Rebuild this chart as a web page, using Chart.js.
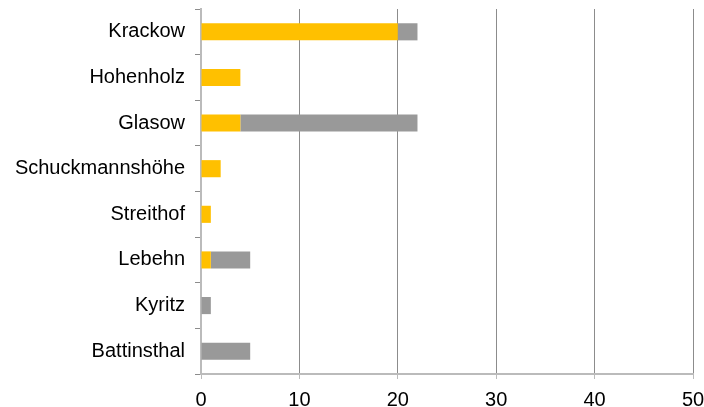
<!DOCTYPE html>
<html>
<head>
<meta charset="utf-8">
<script src="https://cdn.jsdelivr.net/npm/chart.js@4"></script>
<style>
  body { margin: 0; background: #fff; }
  #wrap { width: 704px; height: 407px; }
</style>
</head>
<body>
<div id="wrap"><canvas id="chart"></canvas></div>
<script>
const places = ['Krackow', 'Hohenholz', 'Glasow', 'Schuckmannshöhe', 'Streithof', 'Lebehn', 'Kyritz', 'Battinsthal'];
const yellowValues = [20, 4, 4, 2, 1, 1, 0, 0];
const grayValues = [2, 0, 18, 0, 0, 4, 1, 5];
const xTicks = [0, 10, 20, 30, 40, 50];

const ctx = document.getElementById('chart').getContext('2d');
new Chart(ctx, {
    type: 'bar',
    data: {
        labels: places,
        datasets: [{
            data: yellowValues,
            backgroundColor: '#FFC000',
            barPercentage: 0.375,
            categoryPercentage: 1
        }, {
            data: grayValues,
            backgroundColor: '#999999',
            barPercentage: 0.375,
            categoryPercentage: 1
        }]
    },
    options: {
        indexAxis: 'y',
        responsive: true,
        maintainAspectRatio: false,
        animation: false,
        layout: { padding: { top: 9, right: 0, left: 0, bottom: 0 } },
        plugins: {
            legend: { display: false },
            tooltip: { enabled: false }
        },
        scales: {
            x: {
                stacked: true,
                min: 0,
                max: 50,
                afterBuildTicks: (scale) => {
                    scale.ticks = xTicks.map(v => ({ value: v }));
                },
                afterFit: (scale) => {
                    scale.height = 33;
                    scale.paddingLeft = 0;
                    scale.paddingRight = 11;
                },
                grid: {
                    color: '#8c8c8c',
                    lineWidth: 1,
                    tickLength: 5,
                    tickColor: '#bbbbbb'
                },
                border: { color: '#bbbbbb', width: 2 },
                ticks: {
                    color: '#000',
                    padding: 9,
                    font: { family: 'Liberation Sans', size: 20 }
                }
            },
            y: {
                stacked: true,
                afterFit: (scale) => {
                    scale.width = 201;
                    scale.paddingTop = 0;
                    scale.paddingBottom = 0;
                },
                grid: {
                    offset: true,
                    drawOnChartArea: false,
                    tickLength: 6,
                    color: '#8c8c8c'
                },
                border: { color: '#bbbbbb', width: 2 },
                ticks: {
                    color: '#000',
                    padding: 10,
                    font: { family: 'Liberation Sans', size: 20 }
                }
            }
        }
    }
});
</script>
</body>
</html>
